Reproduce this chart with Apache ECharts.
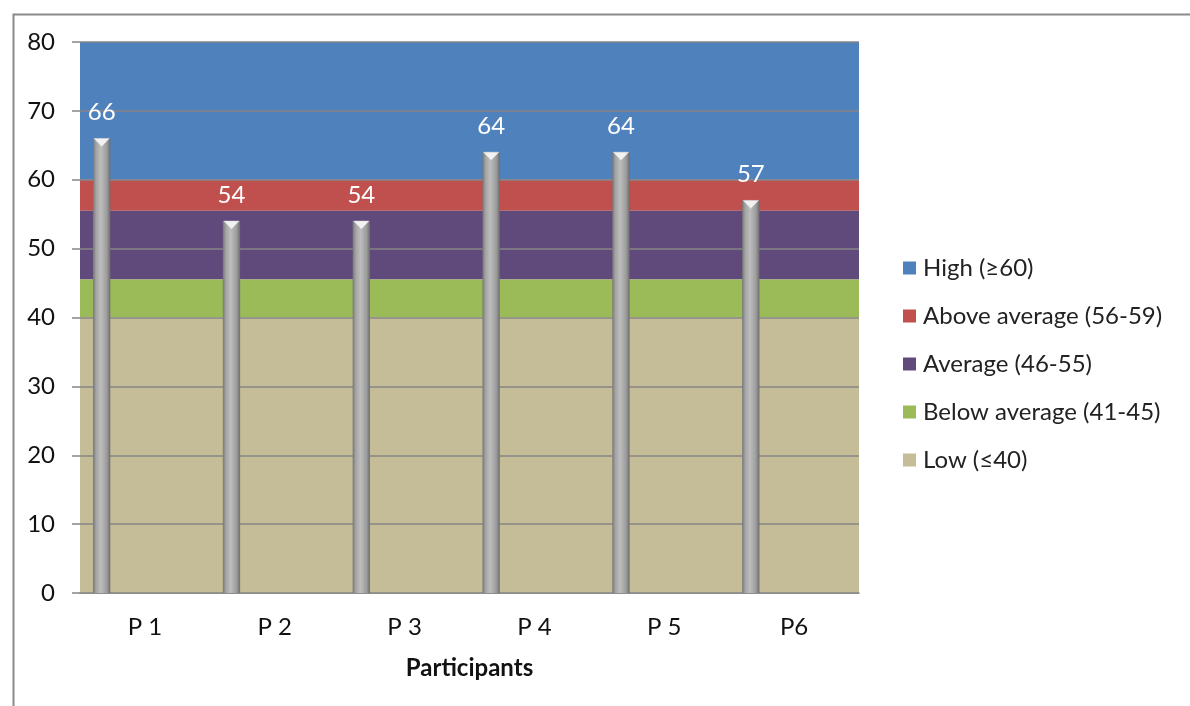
<!DOCTYPE html>
<html>
<head>
<meta charset="utf-8">
<script src="https://cdn.jsdelivr.net/npm/echarts@6/dist/echarts.min.js"></script>
<style>
  html, body { margin: 0; padding: 0; background: #fff; }
  #chart { width: 1190px; height: 706px; }
</style>
</head>
<body>
<div id="chart"></div>
<script>
// Participant scores
const participants = ['P 1', 'P 2', 'P 3', 'P 4', 'P 5', 'P6'];
const scores = [66, 54, 54, 64, 64, 57];

// Score bands (legend order, top to bottom)
const bandNames = ['High (≥60)', 'Above average (56-59)', 'Average (46-55)', 'Below average (41-45)', 'Low (≤40)'];
const bandLower = [60, 55.5, 45.5, 40, 0];
const bandUpper = [80, 60, 55.5, 45.5, 40];
const bandColors = ['#4F81BD', '#C0504D', '#604A7B', '#9BBB59', '#C4BD97'];

const FONT = 'Lato, "Open Sans", sans-serif';

const chart = echarts.init(document.getElementById('chart'), null, { renderer: 'canvas' });

const bandSeries = bandNames.map((name, i) => ({
  name: name,
  type: 'line',
  data: [],
  z: 1,
  itemStyle: { color: bandColors[i] },
  lineStyle: { color: bandColors[i] },
  markArea: {
    silent: true,
    itemStyle: { color: bandColors[i], opacity: 1 },
    data: [[{ yAxis: bandLower[i] }, { yAxis: bandUpper[i] }]]
  }
}));

// Cylinder-like column, placed as the first slot of a six-slot cluster
function renderScore(params, api) {
  const idx = api.value(0);
  const val = api.value(1);
  const base = api.coord([idx, 0]);
  const top = api.coord([idx, val]);
  const bandW = api.size([1, 0])[0];
  const clusterW = bandW * 6 / 7.5;
  const barW = clusterW / 6;
  const cx = base[0] - clusterW / 2 + barW / 2;
  const x0 = cx - barW / 2;
  const x1 = cx + barW / 2;
  const grad = new echarts.graphic.LinearGradient(0, 0, 1, 0, [
    { offset: 0, color: '#767676' },
    { offset: 0.18, color: '#a4a4a4' },
    { offset: 0.45, color: '#bdbdbd' },
    { offset: 0.8, color: '#9c9c9c' },
    { offset: 1, color: '#6c6c6c' }
  ]);
  return {
    type: 'group',
    children: [
      {
        type: 'rect',
        shape: { x: x0, y: top[1], width: barW, height: base[1] - top[1] },
        style: { fill: grad }
      },
      {
        type: 'polygon',
        shape: { points: [[x0 + 1, top[1]], [x1 - 1, top[1]], [cx, top[1] + 8]] },
        style: { fill: '#f2f2f2', stroke: '#d8d8d8', lineWidth: 0.5 }
      },
      {
        type: 'text',
        style: {
          text: String(val),
          x: cx,
          y: top[1] - 26,
          align: 'center',
          verticalAlign: 'middle',
          fill: '#ffffff',
          font: '24px ' + FONT
        }
      }
    ]
  };
}

const option = {
  animation: false,
  backgroundColor: '#ffffff',
  graphic: [{
    type: 'rect',
    left: 11, top: 12,
    shape: { width: 1300, height: 900 },
    style: { fill: 'none', stroke: '#8a8a8a', lineWidth: 2 },
    silent: true
  }],
  grid: { left: 80, right: 331, top: 42, bottom: 113, containLabel: false },
  legend: {
    orient: 'vertical',
    left: 903,
    top: 255,
    padding: 0,
    icon: 'rect',
    itemWidth: 13,
    itemHeight: 13,
    itemGap: 22,
    data: bandNames,
    textStyle: { fontSize: 24, fontFamily: FONT, color: '#222', lineHeight: 26, padding: [0, 0, 0, 2] },
    selectedMode: false
  },
  xAxis: {
    type: 'category',
    data: participants,
    name: 'Participants',
    nameLocation: 'middle',
    nameGap: 63,
    nameTextStyle: { fontSize: 24, fontWeight: 'bold', fontFamily: FONT, color: '#111' },
    axisLine: { lineStyle: { color: '#868686', width: 1.5 } },
    axisTick: { show: false },
    axisLabel: { fontSize: 24, fontFamily: FONT, color: '#111', margin: 22 },
    splitLine: { show: false }
  },
  yAxis: {
    type: 'value',
    min: 0, max: 80, interval: 10,
    z: 3,
    axisLine: { show: false },
    axisTick: { show: true, length: 8, lineStyle: { color: '#868686', width: 1.5 } },
    axisLabel: { fontSize: 24, fontFamily: FONT, color: '#111', margin: 25 },
    splitLine: { lineStyle: { color: '#868686', width: 1.5 } }
  },
  series: bandSeries.concat([{
    name: 'Score',
    type: 'custom',
    z: 5,
    renderItem: renderScore,
    encode: { x: 0, y: 1 },
    data: scores.map((v, i) => [i, v])
  }])
};

chart.setOption(option);
</script>
</body>
</html>
